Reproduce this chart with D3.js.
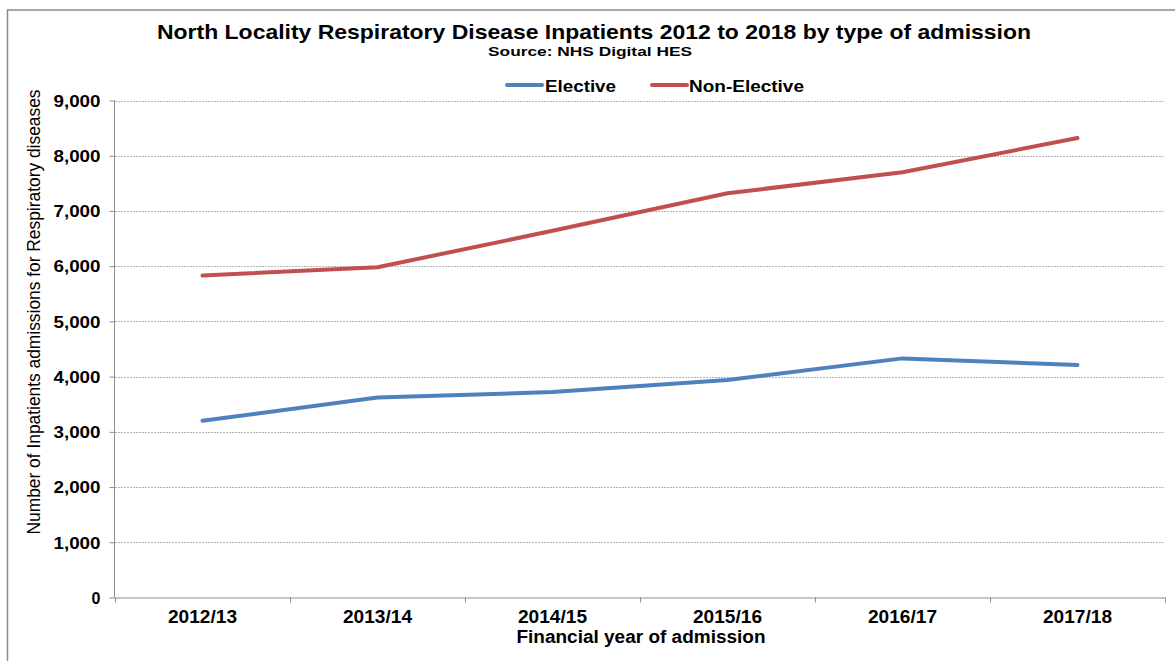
<!DOCTYPE html>
<html>
<head>
<meta charset="utf-8">
<script src="https://cdn.jsdelivr.net/npm/d3@7"></script>
<style>
  html, body { margin: 0; padding: 0; background: #fff; }
  svg { display: block; font-family: "Liberation Sans", Arial, sans-serif; }
</style>
</head>
<body>
<svg id="chart" width="1175" height="661"></svg>
<script>
const categories = ["2012/13", "2013/14", "2014/15", "2015/16", "2016/17", "2017/18"];
const elective = [3200, 3620, 3720, 3940, 4330, 4210];
const nonElective = [5830, 5980, 6640, 7320, 7700, 8320];
const yTicks = [0, 1000, 2000, 3000, 4000, 5000, 6000, 7000, 8000, 9000];
const seriesNames = ["Elective", "Non-Elective"];
const seriesColors = ["#4F81BD", "#C0504D"];

const series = [
  { name: seriesNames[0], color: seriesColors[0], values: elective },
  { name: seriesNames[1], color: seriesColors[1], values: nonElective }
];

const svg = d3.select("#chart");
const pLeft = 115, pRight = 1165, pTop = 100.5, pBottom = 597.5;

const x = d3.scaleBand().domain(categories).range([pLeft, pRight]).padding(0);
const y = d3.scaleLinear().domain([0, 9000]).range([pBottom, pTop]);

// Frame
svg.append("path")
  .attr("d", `M7.5,661 L7.5,10 L1175,10`)
  .attr("fill", "none").attr("stroke", "#8a8a8a").attr("stroke-width", 1.5);

// Gridlines
svg.append("g").selectAll("line")
  .data(yTicks.filter(d => d > 0))
  .join("line")
  .attr("x1", pLeft).attr("x2", pRight)
  .attr("y1", d => Math.round(y(d)) + 0.5).attr("y2", d => Math.round(y(d)) + 0.5)
  .attr("stroke", "#b4b4b4").attr("stroke-width", 1).attr("stroke-dasharray", "2,1");

// Y axis
const yAxis = d3.axisLeft(y).tickValues(yTicks).tickFormat(d3.format(",")).tickSize(5).tickPadding(10);
const gy = svg.append("g").attr("transform", `translate(${pLeft - 0.5},0)`).call(yAxis);
gy.select(".domain").attr("stroke", "#8c8c8c").attr("d", `M0,${y(9000)}V${y(0)}`);
gy.selectAll(".tick line").attr("stroke", "#8c8c8c");
gy.selectAll(".tick text")
  .attr("font-size", 16).attr("font-weight", "bold").attr("fill", "#000")
  .attr("font-family", "Liberation Sans, Arial, sans-serif")
  .attr("x", -14)
  .attr("dy", "0.36em")
  .attr("textLength", d => d === 0 ? null : 47)
  .attr("lengthAdjust", "spacingAndGlyphs");

// X axis
const xAxis = d3.axisBottom(x).tickSize(0).tickPadding(14);
const gx = svg.append("g").attr("transform", `translate(0,${pBottom})`).call(xAxis);
gx.select(".domain").attr("stroke", "#8c8c8c").attr("d", `M${pLeft},0.5H${pRight}`);
gx.selectAll(".tick text")
  .attr("font-size", 17.5).attr("font-weight", "bold").attr("fill", "#000")
  .attr("font-family", "Liberation Sans, Arial, sans-serif")
  .attr("dy", null).attr("y", 25.3)
  .attr("textLength", 69).attr("lengthAdjust", "spacingAndGlyphs");
// category boundary ticks
const bounds = categories.map(c => x(c)).concat([x(categories[categories.length - 1]) + x.bandwidth()]);
gx.append("g").selectAll("line").data(bounds).join("line")
  .attr("x1", d => Math.round(d) + 0.5).attr("x2", d => Math.round(d) + 0.5)
  .attr("y1", 0).attr("y2", 5).attr("stroke", "#8c8c8c");

// Lines
const line = d3.line()
  .x((d, i) => x(categories[i]) + x.bandwidth() / 2)
  .y(d => y(d));
svg.append("g").selectAll("path")
  .data(series).join("path")
  .attr("d", d => line(d.values))
  .attr("fill", "none")
  .attr("stroke", d => d.color)
  .attr("stroke-width", 4)
  .attr("stroke-linecap", "round")
  .attr("stroke-linejoin", "round");

// Title
svg.append("text")
  .attr("x", 594).attr("y", 39).attr("text-anchor", "middle")
  .attr("font-size", 20.5).attr("font-weight", "bold")
  .attr("textLength", 874).attr("lengthAdjust", "spacingAndGlyphs")
  .text("North Locality Respiratory Disease Inpatients 2012 to 2018 by type of admission");
svg.append("text")
  .attr("x", 590).attr("y", 56).attr("text-anchor", "middle")
  .attr("font-size", 13).attr("font-weight", "bold")
  .attr("textLength", 204).attr("lengthAdjust", "spacingAndGlyphs")
  .text("Source: NHS Digital HES");

// Legend
const legendItems = [
  { x1: 507, x2: 542, tx: 545, tw: 71 },
  { x1: 652, x2: 687, tx: 689, tw: 115 }
];
const lg = svg.append("g");
series.forEach((s, i) => {
  const L = legendItems[i];
  lg.append("line").attr("x1", L.x1).attr("x2", L.x2).attr("y1", 85).attr("y2", 85)
    .attr("stroke", s.color).attr("stroke-width", 4).attr("stroke-linecap", "round");
  lg.append("text").attr("x", L.tx).attr("y", 91.5)
    .attr("font-size", 16.5).attr("font-weight", "bold")
    .attr("textLength", L.tw).attr("lengthAdjust", "spacingAndGlyphs")
    .text(s.name);
});

// Axis titles
svg.append("text")
  .attr("transform", `translate(40,${312}) rotate(-90)`)
  .attr("text-anchor", "middle")
  .attr("font-size", 18)
  .attr("textLength", 445).attr("lengthAdjust", "spacingAndGlyphs")
  .text("Number of Inpatients admissions for Respiratory diseases");
svg.append("text")
  .attr("x", 641).attr("y", 643).attr("text-anchor", "middle")
  .attr("font-size", 18).attr("font-weight", "bold")
  .attr("textLength", 249).attr("lengthAdjust", "spacingAndGlyphs")
  .text("Financial year of admission");
</script>
</body>
</html>
